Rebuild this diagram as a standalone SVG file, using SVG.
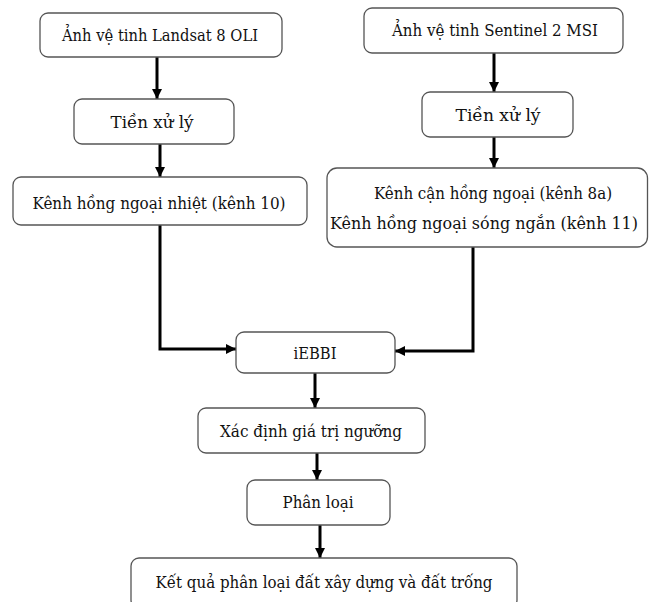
<svg xmlns="http://www.w3.org/2000/svg" width="649" height="602" viewBox="0 0 649 602">
<style>
.box{fill:#fff;stroke:#555;stroke-width:1.3}
.t{font-family:"DejaVu Serif Condensed","DejaVu Serif","Liberation Serif",serif;font-size:16px;fill:#111;text-anchor:middle}
.c{fill:none;stroke:#000;stroke-width:3}
</style>
<defs>
<marker id="ah" markerUnits="userSpaceOnUse" markerWidth="10" markerHeight="10" viewBox="0 0 10 10" refX="10" refY="5" orient="auto">
<path d="M0,0 L10,5 L0,10 z" fill="#000"/>
</marker>
</defs>
<rect width="649" height="602" fill="#fff"/>
<g id="connectors">
<line class="c" x1="157" y1="57" x2="157" y2="99" marker-end="url(#ah)"/>
<line class="c" x1="160" y1="144" x2="160" y2="177" marker-end="url(#ah)"/>
<line class="c" x1="494" y1="53" x2="494" y2="92" marker-end="url(#ah)"/>
<line class="c" x1="494" y1="137" x2="494" y2="168" marker-end="url(#ah)"/>
<path class="c" d="M160 225 V349 H236" marker-end="url(#ah)"/>
<path class="c" d="M473 247 V351 H395" marker-end="url(#ah)"/>
<line class="c" x1="315" y1="373" x2="315" y2="408" marker-end="url(#ah)"/>
<line class="c" x1="317" y1="453" x2="317" y2="480" marker-end="url(#ah)"/>
<line class="c" x1="320" y1="525" x2="320" y2="558" marker-end="url(#ah)"/>
</g>
<g id="landsat"><rect class="box" x="40" y="13" width="242" height="44" rx="8"/><text class="t" x="160" y="41" textLength="196" lengthAdjust="spacingAndGlyphs">Ảnh vệ tinh Landsat 8 OLI</text></g>
<g id="pre1"><rect class="box" x="74" y="99" width="160" height="45" rx="8"/><text class="t" x="152" y="128" textLength="83" lengthAdjust="spacingAndGlyphs">Tiền xử lý</text></g>
<g id="tir"><rect class="box" x="13" y="177" width="294" height="48" rx="8"/><text class="t" x="159" y="209" textLength="253" lengthAdjust="spacingAndGlyphs">Kênh hồng ngoại nhiệt (kênh 10)</text></g>
<g id="sentinel"><rect class="box" x="364" y="8" width="259" height="45" rx="8"/><text class="t" x="495" y="36" textLength="206" lengthAdjust="spacingAndGlyphs">Ảnh vệ tinh Sentinel 2 MSI</text></g>
<g id="pre2"><rect class="box" x="422" y="92" width="151" height="45" rx="8"/><text class="t" x="498" y="121" textLength="85" lengthAdjust="spacingAndGlyphs">Tiền xử lý</text></g>
<g id="nir"><rect class="box" x="327" y="168" width="320.5" height="79" rx="10"/><text class="t" x="493" y="199" textLength="238" lengthAdjust="spacingAndGlyphs">Kênh cận hồng ngoại (kênh 8a)</text><text class="t" x="484" y="229" textLength="308" lengthAdjust="spacingAndGlyphs">Kênh hồng ngoại sóng ngắn (kênh 11)</text></g>
<g id="iebbi"><rect class="box" x="236" y="332" width="159" height="41" rx="8"/><text class="t" x="315" y="359" textLength="43" lengthAdjust="spacingAndGlyphs">iEBBI</text></g>
<g id="threshold"><rect class="box" x="198" y="408" width="227" height="45" rx="8"/><text class="t" x="311" y="437" textLength="182" lengthAdjust="spacingAndGlyphs">Xác định giá trị ngưỡng</text></g>
<g id="classify"><rect class="box" x="247" y="480" width="143" height="45" rx="8"/><text class="t" x="318" y="508" textLength="71" lengthAdjust="spacingAndGlyphs">Phân loại</text></g>
<g id="result"><rect class="box" x="131" y="558" width="386" height="50" rx="8"/><text class="t" x="324" y="588" textLength="337" lengthAdjust="spacingAndGlyphs">Kết quả phân loại đất xây dựng và đất trống</text></g>
</svg>
